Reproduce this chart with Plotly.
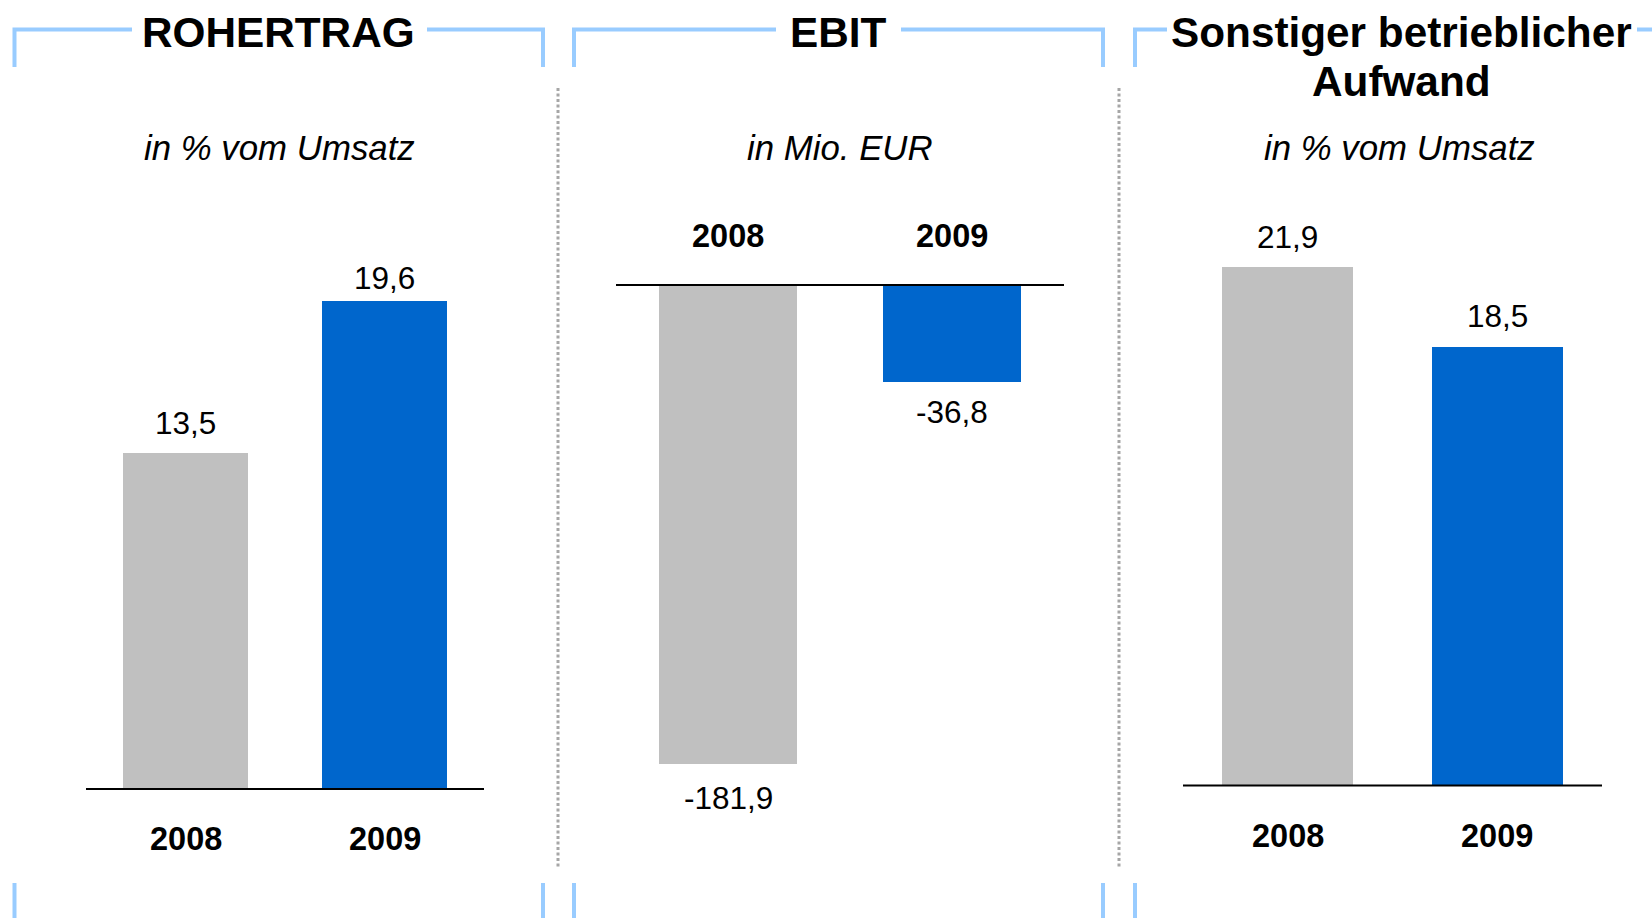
import plotly.graph_objects as go

# ---------------- data ----------------
years = ["2008", "2009"]
rohertrag = [13.5, 19.6]          # in % vom Umsatz
ebit = [-181.9, -36.8]            # in Mio. EUR
sonst_aufwand = [21.9, 18.5]      # in % vom Umsatz
value_labels_1 = ["13,5", "19,6"]
value_labels_2 = ["-181,9", "-36,8"]
value_labels_3 = ["21,9", "18,5"]
titles = ["ROHERTRAG", "EBIT", "Sonstiger betrieblicher", "Aufwand"]
subtitles = ["in % vom Umsatz", "in Mio. EUR", "in % vom Umsatz"]

# ---------------- style ----------------
W, H = 1652, 918
GRAY = "#C0C0C0"
BLUE = "#0066CC"
BRACKET = "#99CCFF"
FONT = "Liberation Sans, Arial, sans-serif"


def px_x(p):
    return p / W


def px_y(p):
    return 1 - p / H


def y_range(dom_top, dom_bot, base, ppu):
    return [-(dom_bot - base) / ppu, (base - dom_top) / ppu]


# panel geometry (pixels)
panels = [
    dict(x0=86, x1=484, top=180, bot=880, base=789, ppu=24.9, width=0.628,
         values=rohertrag, labels=value_labels_1, lab_off=[30, 22.5], cat_off=-50),
    dict(x0=616, x1=1064, top=180, bot=880, base=285, ppu=2.632, width=0.62,
         values=ebit, labels=value_labels_2, lab_off=[-34, -30], cat_off=49),
    dict(x0=1183, x1=1602, top=180, bot=880, base=785.5, ppu=23.68, width=0.625,
         values=sonst_aufwand, labels=value_labels_3, lab_off=[30, 31], cat_off=-50),
]

hidden_axis = dict(showticklabels=False, showgrid=False, zeroline=False,
                   showline=False, ticks="", fixedrange=True)

fig = go.Figure()
annotations = []
shapes = []

for i, p in enumerate(panels):
    n = "" if i == 0 else str(i + 1)
    xa, ya = "x" + n, "y" + n
    xpos = list(range(len(years)))
    fig.add_trace(go.Bar(
        x=xpos, y=p["values"], width=p["width"],
        marker=dict(color=[GRAY, BLUE], line=dict(width=0)),
        xaxis=xa, yaxis=ya, showlegend=False, hoverinfo="skip",
    ))
    fig.layout["xaxis" + n] = dict(
        domain=[px_x(p["x0"]), px_x(p["x1"])], range=[-0.5, 1.5],
        type="linear", anchor=ya, **hidden_axis)
    fig.layout["yaxis" + n] = dict(
        domain=[px_y(p["bot"]), px_y(p["top"])],
        range=y_range(p["top"], p["bot"], p["base"], p["ppu"]),
        type="linear", anchor=xa, **hidden_axis)
    # baseline
    shapes.append(dict(type="line", xref=xa + " domain", yref=ya,
                       x0=0, x1=1, y0=0, y1=0, line=dict(color="black", width=2),
                       layer="above"))
    # value labels
    for xp, v, lab, off in zip(xpos, p["values"], p["labels"], p["lab_off"]):
        annotations.append(dict(x=xp, y=v, xref=xa, yref=ya, text=lab,
                                showarrow=False, yshift=off, yanchor="middle",
                                xanchor="center",
                                font=dict(family=FONT, size=31.5, color="black")))
    # category labels
    for xp, yr in zip(xpos, years):
        annotations.append(dict(x=xp, y=0, xref=xa, yref=ya, text="<b>%s</b>" % yr,
                                showarrow=False, yshift=p["cat_off"], yanchor="middle",
                                xanchor="center",
                                font=dict(family=FONT, size=32.5, color="black")))

# titles
title_pos = [(278.7, 32), (838.5, 32), (1401, 32.5), (1401, 81.5)]
for t, (cx, cy) in zip(titles, title_pos):
    annotations.append(dict(x=px_x(cx), y=px_y(cy), xref="paper", yref="paper",
                            text="<b>%s</b>" % t, showarrow=False,
                            xanchor="center", yanchor="middle",
                            font=dict(family=FONT, size=42.3, color="black")))
sub_pos = [(279.5, 147), (840, 147), (1399.5, 147)]
for t, (cx, cy) in zip(subtitles, sub_pos):
    annotations.append(dict(x=px_x(cx), y=px_y(cy), xref="paper", yref="paper",
                            text="<i>%s</i>" % t, showarrow=False,
                            xanchor="center", yanchor="middle",
                            font=dict(family=FONT, size=34.8, color="black")))

# brackets (top, with gaps for titles)
top_y, top_v_end = 29.5, 67
brackets = [(14.5, 543, 132, 427), (574, 1103, 776, 901), (1135, 1670, 1167, 1637)]


def path(points):
    return "M " + " L ".join("%f,%f" % (px_x(a), px_y(b)) for a, b in points)


for lx, rx, g0, g1 in brackets:
    shapes.append(dict(type="path", xref="paper", yref="paper",
                       path=path([(lx, top_v_end), (lx, top_y), (g0, top_y)]),
                       line=dict(color=BRACKET, width=4)))
    shapes.append(dict(type="path", xref="paper", yref="paper",
                       path=path([(g1, top_y), (rx, top_y), (rx, top_v_end)]),
                       line=dict(color=BRACKET, width=4)))
    for xx in (lx, rx):
        shapes.append(dict(type="line", xref="paper", yref="paper",
                           x0=px_x(xx), x1=px_x(xx), y0=px_y(883), y1=px_y(925),
                           line=dict(color=BRACKET, width=4)))

# dotted dividers
for xx in (558, 1119):
    shapes.append(dict(type="line", xref="paper", yref="paper",
                       x0=px_x(xx), x1=px_x(xx), y0=px_y(88), y1=px_y(867),
                       line=dict(color="#A6A6A6", width=3, dash="3px,2.5px")))

fig.update_layout(
    width=W, height=H, autosize=False,
    margin=dict(l=0, r=0, t=0, b=0),
    paper_bgcolor="white", plot_bgcolor="white",
    annotations=annotations, shapes=shapes,
    bargap=0, showlegend=False,
)

fig.write_html(
    "out.html",
    config={"displayModeBar": False},
    post_script="document.body.style.margin='0';document.body.style.overflow='hidden';",
)
